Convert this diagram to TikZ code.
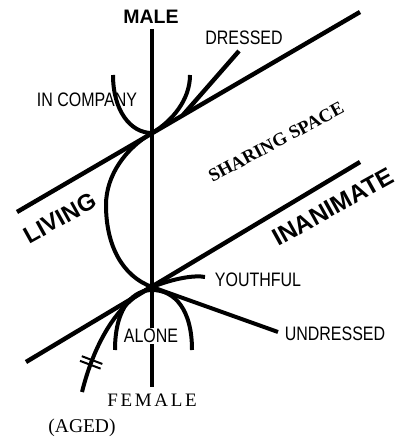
\documentclass[tikz,border=0pt]{standalone}
\usepackage{fontspec}
\setmainfont{Liberation Sans}
\newfontfamily\narrowsans[FakeStretch=0.82]{Liberation Sans}
\newfontfamily\timesfont{Liberation Serif}
\newfontfamily\femalefont[LetterSpace=14]{Liberation Serif}
\usetikzlibrary{decorations.markings}

\begin{document}
\begin{tikzpicture}[
    x=1pt, y=-1pt,
    mainline/.style={line width=4.4pt},
    arcline/.style={line width=4pt},
    tag/.style={
        inner sep=0pt,
        font=\narrowsans\fontsize{19.5}{19.5}\selectfont
    },
    bigword/.style={
        inner sep=0pt,
        rotate=29,
        font=\bfseries\fontsize{23.5}{23.5}\selectfont
    },
    agedticks/.style={
        postaction=decorate,
        decoration={markings, mark=at position 31pt with {
            \draw[line width=2pt] (-2.5pt,-11pt) -- (-2.5pt,11pt)
                (2.5pt,-11pt) -- (2.5pt,11pt);}}
    }
]
    \useasboundingbox (0,0) rectangle (404,443);

    \coordinate (maletop) at (152,29);
    \coordinate (femalebot) at (152,387);
    \coordinate (meet) at (152,133);
    \coordinate (low) at (152,287);
    \coordinate (livA) at (17,212);
    \coordinate (livB) at (360,12);
    \coordinate (inaA) at (26,362);
    \coordinate (inaB) at (360,162);
    \coordinate (undr) at (278,332);
    \coordinate (dress) at (239,51);
    \coordinate (dressin) at (183,115);
    \coordinate (compL) at (113,75);
    \coordinate (compR) at (190,75);
    \coordinate (bend) at (106,205);
    \coordinate (aloneL) at (115,350);
    \coordinate (alonetop) at (152,290);
    \coordinate (aloneR) at (192,350);
    \coordinate (agedend) at (82,392);
    \coordinate (youth) at (205,277);

    \draw[mainline] (maletop) -- (femalebot);
    \draw[mainline] (livA) -- (livB);
    \draw[mainline] (inaA) -- (inaB);
    \draw[mainline] (dress) -- (dressin);
    \draw[arcline] (compL) .. controls (113,110) and (130,133) .. (meet)
        .. controls (172,121.3) and (190,100) .. (compR);
    \draw[arcline] (meet) .. controls (126,148) and (106,175) .. (bend)
        .. controls (106,245) and (122,276) .. (low) -- (undr);
    \draw[arcline] (aloneL) .. controls (115,305) and (135,290) .. (alonetop)
        .. controls (175,290) and (192,310) .. (aloneR);
    \draw[arcline, agedticks] (agedend) .. controls (95,340) and (120,300) .. (low)
        .. controls (175,278) and (195,275) .. (youth);

    \node[inner sep=0pt, font=\bfseries\fontsize{19.5}{19.5}\selectfont] (male) at (151,17) {MALE};
    \node[tag] (dressed) at (244,38) {DRESSED};
    \node[tag] (company) at (87,100) {IN COMPANY};
    \node[tag] (youthful) at (258,280) {YOUTHFUL};
    \node[tag] (undressed) at (335,334) {UNDRESSED};
    \node[tag, fill=white, inner sep=1pt] (alone) at (151,336) {ALONE};
    \node[bigword] (living) at (60,218) {LIVING};
    \node[bigword, font=\bfseries\fontsize{24.5}{24.5}\selectfont] (inanimate) at (333,207) {INANIMATE};
    \node[inner sep=0pt, rotate=28, font=\timesfont\bfseries\fontsize{18.5}{18.5}\selectfont] (sharing) at (276,142) {SHARING SPACE};
    \node[inner sep=0pt, font=\femalefont\fontsize{19}{19}\selectfont] (female) at (152,400) {FEMALE};
    \node[inner sep=0pt, font=\timesfont\fontsize{19.5}{19.5}\selectfont] (aged) at (82,428) {(AGED)};
\end{tikzpicture}
\end{document}
